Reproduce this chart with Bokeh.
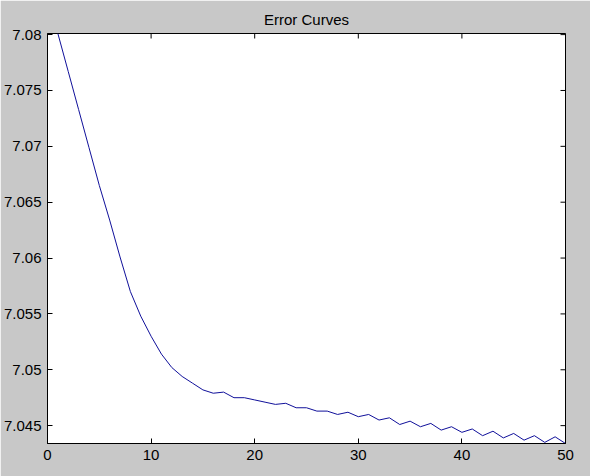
from bokeh.plotting import figure
from bokeh.models import Range1d, FixedTicker
from bokeh.embed import file_html
from bokeh.resources import INLINE

# ---- data ----
epochs = list(range(1, 51))
error = [7.0801, 7.0767, 7.0733, 7.0699, 7.0665, 7.0634, 7.0601, 7.0570, 7.0548, 7.0530,
         7.0514, 7.0502, 7.0494, 7.0488, 7.0482, 7.0479, 7.0480, 7.0475, 7.0475, 7.0473,
         7.0471, 7.0469, 7.0470, 7.0466, 7.0466, 7.0463, 7.0463, 7.0460, 7.0462, 7.0458,
         7.0460, 7.0455, 7.0457, 7.0451, 7.0454, 7.0449, 7.0452, 7.0446, 7.0449, 7.0444,
         7.0447, 7.0441, 7.0445, 7.0439, 7.0443, 7.0437, 7.0441, 7.0435, 7.0440, 7.0434]
x_ticks = [0, 10, 20, 30, 40, 50]
y_ticks = [7.045, 7.05, 7.055, 7.06, 7.065, 7.07, 7.075, 7.08]
y_tick_labels = ["7.045", "7.05", "7.055", "7.06", "7.065", "7.07", "7.075", "7.08"]
title_text = "Error Curves"

BG = "#c8c8c8"
FONT = "Liberation Sans"

x_lo, x_hi = 0, 50
y_lo, y_hi = min(error), max(error)

p = figure(width=590, height=476, output_backend="svg", toolbar_location=None,
           x_range=Range1d(x_lo, x_hi), y_range=Range1d(y_lo, y_hi),
           title=title_text)
p.min_border_left = 45
p.min_border_right = 25
p.min_border_top = 33
p.min_border_bottom = 33
p.border_fill_color = BG
p.background_fill_color = "white"
p.outline_line_color = "black"
p.outline_line_width = 1
p.grid.visible = False

p.title.align = "center"
p.title.text_font = FONT
p.title.text_font_size = "15px"
p.title.text_font_style = "normal"
p.title.text_color = "black"
p.title.standoff = 12

def style_axis(ax, ticks, overrides=None):
    ax.ticker = FixedTicker(ticks=ticks)
    ax.major_tick_in = 5
    ax.major_tick_out = 0
    ax.minor_tick_in = 0
    ax.minor_tick_out = 0
    ax.major_tick_line_color = "black"
    ax.axis_line_color = "black"
    ax.major_label_text_font = FONT
    ax.major_label_text_color = "black"
    ax.major_label_text_font_size = "15px"
    ax.major_label_standoff = 6
    if overrides:
        ax.major_label_overrides = overrides

style_axis(p.xaxis[0], x_ticks)
style_axis(p.yaxis[0], y_ticks, {t: s for t, s in zip(y_ticks, y_tick_labels)})

# inward ticks on the top and right edges of the box (half of each dash is clipped by the frame)
p.scatter(x=x_ticks, y=[y_hi] * len(x_ticks), marker="dash", angle=1.5707963,
          size=10, line_color="black", line_width=1)
p.scatter(x=[x_hi] * len(y_ticks), y=y_ticks, marker="dash",
          size=10, line_color="black", line_width=1)

p.line(epochs, error, line_color="#10109a", line_width=1)

html = file_html(p, INLINE)
open("out.html", "w").write(html)
